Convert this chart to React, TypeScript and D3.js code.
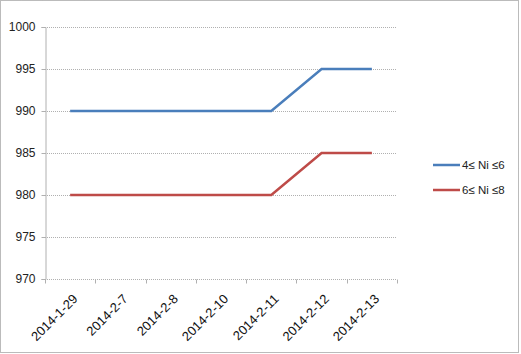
import React, { useEffect, useRef } from 'react';
import * as d3 from 'd3';

const dates = ['2014-1-29', '2014-2-7', '2014-2-8', '2014-2-10', '2014-2-11', '2014-2-12', '2014-2-13'];
const seriesA = [990, 990, 990, 990, 990, 995, 995];
const seriesB = [980, 980, 980, 980, 980, 985, 985];
const seriesNames = ['4≤ Ni ≤6', '6≤ Ni ≤8'];
const seriesColors = ['#4a7ebb', '#be4b48'];
const yTicks = [970, 975, 980, 985, 990, 995, 1000];

const W = 521;
const H = 354;

const App = () => {
  const ref = useRef<SVGSVGElement>(null);

  useEffect(() => {
    const svg = d3.select(ref.current);
    svg.selectAll('*').remove();

    const margin = { top: 27, right: 124, bottom: 75, left: 45 };
    const width = 397 - margin.left;
    const height = 279 - margin.top;
    const font = 'Liberation Sans, Arial, sans-serif';

    // outer frame
    svg.append('rect')
      .attr('x', 0.5).attr('y', 0.5)
      .attr('width', 518).attr('height', 352)
      .attr('fill', '#fff')
      .attr('stroke', '#777')
      .attr('stroke-dasharray', '1,1');

    const g = svg.append('g').attr('transform', `translate(${margin.left},${margin.top})`);

    const x = d3.scaleBand().domain(dates).range([0, width]);
    const y = d3.scaleLinear().domain([970, 1000]).range([height, 0]);

    // gridlines
    g.selectAll('.grid')
      .data(yTicks.slice(1))
      .enter().append('line')
      .attr('x1', 0).attr('x2', width)
      .attr('y1', d => Math.round(y(d)) + 0.5).attr('y2', d => Math.round(y(d)) + 0.5)
      .attr('stroke', '#b0b0b0')
      .attr('stroke-dasharray', '1,1');

    // y axis
    const yAxis = g.append('g').attr('transform', 'translate(0.5,0)')
      .call(d3.axisLeft(y).tickValues(yTicks).tickSize(4).tickPadding(6).tickFormat(d3.format('d')));
    yAxis.select('.domain').attr('stroke', '#b0b0b0');
    yAxis.selectAll('.tick line').attr('stroke', '#b0b0b0');
    yAxis.selectAll('text').attr('font-family', font).attr('font-size', 12).attr('fill', '#222');

    // x axis
    const xAxis = g.append('g').attr('transform', `translate(0,${height + 0.5})`);
    xAxis.append('line')
      .attr('x1', 0).attr('x2', width)
      .attr('stroke', '#b0b0b0')
      .attr('stroke-dasharray', '1,1');
    const bounds = d3.range(dates.length + 1).map(i => i * x.bandwidth());
    xAxis.selectAll('.xt')
      .data(bounds)
      .enter().append('line')
      .attr('x1', d => Math.round(d) + 0.5).attr('x2', d => Math.round(d) + 0.5)
      .attr('y1', 0).attr('y2', 4)
      .attr('stroke', '#b0b0b0');
    xAxis.selectAll('.xl')
      .data(dates)
      .enter().append('text')
      .attr('transform', d => `translate(${(x(d) as number) + x.bandwidth() / 2 + 5},${17}) rotate(-45)`)
      .attr('text-anchor', 'end')
      .attr('dy', '0.35em')
      .attr('font-family', font)
      .attr('font-size', 13)
      .attr('fill', '#111')
      .text(d => d);

    // lines
    const line = d3.line<number>()
      .x((_, i) => (x(dates[i]) as number) + x.bandwidth() / 2)
      .y(d => y(d));

    [seriesA, seriesB].forEach((s, i) => {
      g.append('path')
        .datum(s)
        .attr('d', line)
        .attr('fill', 'none')
        .attr('stroke', seriesColors[i])
        .attr('stroke-width', 2.5);
    });

    // legend
    const legend = svg.append('g').attr('transform', 'translate(433,165)');
    seriesNames.forEach((name, i) => {
      legend.append('line')
        .attr('x1', 0).attr('x2', 27)
        .attr('y1', i * 25).attr('y2', i * 25)
        .attr('stroke', seriesColors[i])
        .attr('stroke-width', 2.5);
      legend.append('text')
        .attr('x', 29).attr('y', i * 25)
        .attr('dy', '0.35em')
        .attr('font-family', font)
        .attr('font-size', 11.5)
        .attr('fill', '#222')
        .text(name);
    });
  }, []);

  return (
    <svg ref={ref} width={W} height={H} style={{ position: 'absolute', left: 0, top: 0 }} />
  );
};

export default App;
